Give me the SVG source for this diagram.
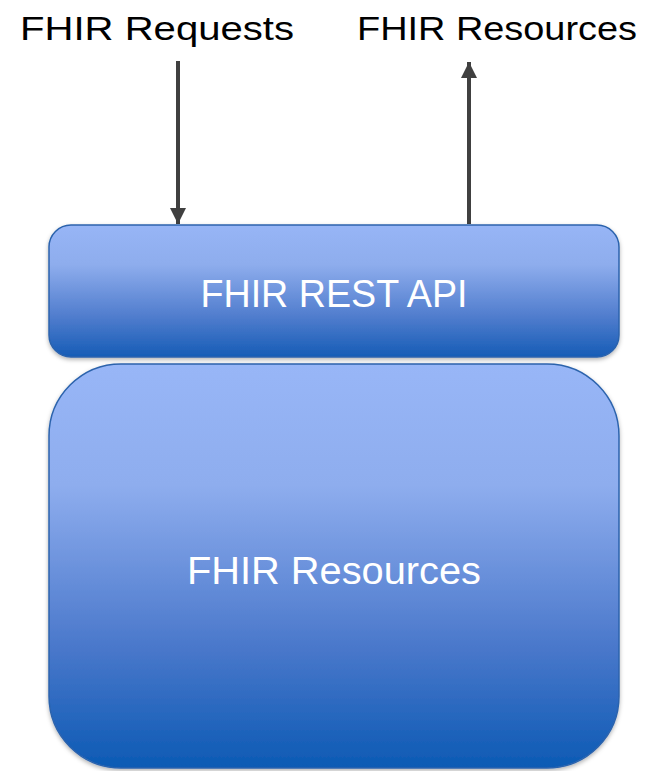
<svg xmlns="http://www.w3.org/2000/svg" width="672" height="771" viewBox="0 0 672 771">
<style>
.lbl{font-family:"Liberation Sans",Arial,sans-serif;font-size:34px;fill:#000}
.in{font-family:"Liberation Sans",Arial,sans-serif;fill:#fff;text-anchor:middle}
.box{stroke:#2c63ad;stroke-width:1.5}
.arr{stroke:#404040;stroke-width:4;fill:none}
</style>
<defs>
<linearGradient id="g1" x1="0" y1="0" x2="0" y2="1">
<stop offset="0" stop-color="#97b5f6"/>
<stop offset="0.3" stop-color="#8eaded"/>
<stop offset="0.7" stop-color="#4f7ccd"/>
<stop offset="1" stop-color="#155cb6"/>
</linearGradient>
<linearGradient id="g2" x1="0" y1="0" x2="0" y2="1">
<stop offset="0" stop-color="#98b6f7"/>
<stop offset="0.3" stop-color="#8eadee"/>
<stop offset="0.7" stop-color="#4a78cb"/>
<stop offset="1" stop-color="#0c5ab4"/>
</linearGradient>
<filter id="sh" x="-5%" y="-5%" width="110%" height="115%">
<feDropShadow dx="0" dy="2" stdDeviation="2" flood-color="#000" flood-opacity="0.3"/>
</filter>
<marker id="ah" viewBox="0 0 10 10" refX="10" refY="5" markerWidth="4" markerHeight="4" orient="auto" markerUnits="strokeWidth">
<path d="M0,0 L10,5 L0,10 z" fill="#404040"/>
</marker>
</defs>
<text class="lbl" x="20" y="40" textLength="274" lengthAdjust="spacingAndGlyphs">FHIR Requests</text>
<text class="lbl" x="357" y="40" textLength="280" lengthAdjust="spacingAndGlyphs">FHIR Resources</text>
<g id="connectors">
<line class="arr" x1="178" y1="61" x2="178" y2="224" marker-end="url(#ah)"/>
<line class="arr" x1="469" y1="224" x2="469" y2="62" marker-end="url(#ah)"/>
</g>
<g id="resources">
<rect class="box" x="49" y="364" width="570" height="404" rx="72" ry="72" fill="url(#g2)" filter="url(#sh)"/>
<text class="in" x="334" y="584" font-size="38" textLength="294" lengthAdjust="spacingAndGlyphs">FHIR Resources</text>
</g>
<g id="api">
<rect class="box" x="49" y="225" width="570" height="132" rx="22" ry="22" fill="url(#g1)" filter="url(#sh)"/>
<text class="in" x="334" y="307" font-size="38" textLength="267" lengthAdjust="spacingAndGlyphs">FHIR REST API</text>
</g>
</svg>
